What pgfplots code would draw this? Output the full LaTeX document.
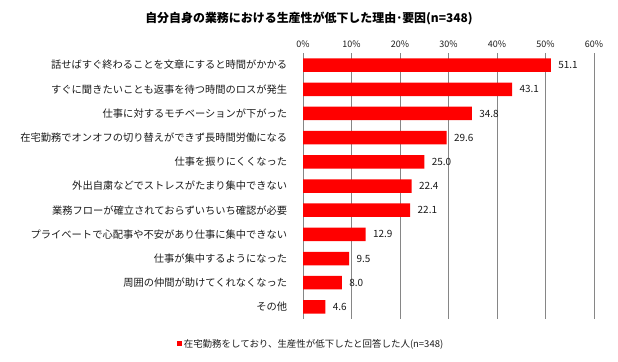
\documentclass[border=0pt]{standalone}
\usepackage{pgfplots}
\pgfplotsset{compat=1.18}
\usepackage{fontspec}
\setmainfont{Noto Sans CJK JP}
\definecolor{barred}{HTML}{FF0000}
\definecolor{gridgray}{HTML}{868686}
\definecolor{txt}{HTML}{1A1A1A}
\begin{document}
\begin{tikzpicture}[x=1bp,y=1bp]
\useasboundingbox (0,0) rectangle (618,361);
\node[font=\fontsize{12}{14}\selectfont\bfseries, text=black] at (309,343) {自分自身の業務における生産性が低下した理由･要因(n=348)};
\begin{axis}[
  at={(303bp,42bp)}, anchor=south west,
  scale only axis, width=291bp, height=266bp,
  xbar, bar width=13.5bp,
  xmin=0, xmax=60, ymin=-0.5, ymax=10.5, y dir=reverse,
  xtick={0,10,...,60},
  xticklabel={\pgfmathprintnumber{\tick}\%},
  xticklabel pos=upper,
  /pgf/number format/assume math mode=true,
  xticklabel style={font=\fontsize{9}{10}\selectfont, text=txt, yshift=2bp},
  ytick={0,...,10},
  yticklabels={話せばすぐ終わることを文章にすると時間がかかる,
    すぐに聞きたいことも返事を待つ時間のロスが発生,
    仕事に対するモチベーションが下がった,
    在宅勤務でオンオフの切り替えができず長時間労働になる,
    仕事を振りにくくなった,
    外出自粛などでストレスがたまり集中できない,
    業務フローが確立されておらずいちいち確認が必要,
    プライベートで心配事や不安があり仕事に集中できない,
    仕事が集中するようになった,
    周囲の仲間が助けてくれなくなった,
    その他},
  yticklabel style={font=\fontsize{10.3}{12}\selectfont, text=txt, xshift=-8bp},
  axis line style={draw=none},
  tick style={draw=none},
  xmajorgrids, grid style={gridgray, line width=0.8pt},
  nodes near coords,
  nodes near coords style={font=\fontsize{10}{12}\selectfont, text=txt, xshift=4bp, /pgf/number format/.cd, fixed, fixed zerofill, precision=1, assume math mode=true},
  legend style={at={(0.0275,-0.093)}, anchor=center, draw=none, fill=none, font=\fontsize{9.5}{11}\selectfont, text=txt, inner sep=0pt},
  legend image code/.code={\fill[barred] (0bp,-2.5bp) rectangle (5bp,2.5bp);},
]
\addplot[fill=barred, draw=none] coordinates {
  (51.1,0) (43.1,1) (34.8,2) (29.6,3) (25.0,4) (22.4,5) (22.1,6) (12.9,7) (9.5,8) (8.0,9) (4.6,10)
};
\addlegendentry{在宅勤務をしており、生産性が低下したと回答した人(n=348)}
\end{axis}
\end{tikzpicture}
\end{document}
